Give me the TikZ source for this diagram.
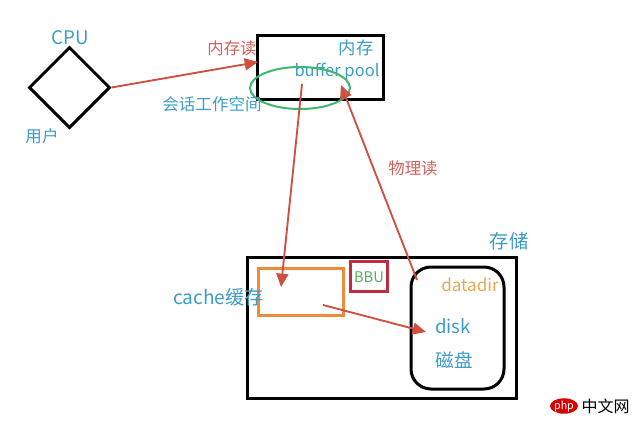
\documentclass[tikz,border=0pt]{standalone}
\usepackage{fontspec}
\setmainfont{Noto Sans CJK SC}
\usepackage{xcolor}
\usetikzlibrary{arrows.meta,shapes.geometric}
\definecolor{labelblue}{HTML}{3D9CC6}
\definecolor{labelred}{HTML}{D0605A}
\definecolor{arrowred}{HTML}{CF4F40}
\definecolor{boxorange}{HTML}{EE8A3A}
\definecolor{boxred}{HTML}{C22B3C}
\definecolor{ringgreen}{HTML}{3DB86E}
\definecolor{bbugreen}{HTML}{55AE5E}
\definecolor{dirorange}{HTML}{E5A855}
\tikzset{
  box/.style={draw,line width=2.25pt,inner sep=0pt},
  bluetext/.style={text=labelblue,font=\fontsize{14}{16}\selectfont,inner sep=0pt},
  smallblue/.style={text=labelblue,font=\fontsize{12.4}{14}\selectfont,inner sep=0pt},
  redtext/.style={text=labelred,font=\fontsize{12.3}{14}\selectfont,inner sep=0pt},
  readarrow/.style={-{Triangle[length=10pt,width=9pt]},arrowred,line width=1.4pt}
}

\begin{document}
\begin{tikzpicture}[x=0.75pt,y=-0.75pt]
  \useasboundingbox (0,0) rectangle (640,425);

  \node[box,diamond,minimum width=60.75pt,minimum height=60.75pt] (cpu) at (69.5,87.5) {};
  \node[bluetext] (cpulabel) at (70,38) {CPU};
  \node[smallblue] (user) at (42,136) {用户};

  \node[box,minimum width=94.5pt,minimum height=48pt] (mem) at (320,67) {};
  \node[smallblue,font=\fontsize{13}{15}\selectfont] (memlabel) at (356,48) {内存};
  \node[smallblue] (pool) at (337,72) {buffer pool};
  \node[draw=ringgreen,line width=1.5pt,ellipse,inner sep=0pt,minimum width=75pt,minimum height=31.5pt] (session) at (300,88) {};
  \node[smallblue] (sessionlabel) at (212,104) {会话工作空间};
  \node[redtext] (memread) at (232,48) {内存读};
  \node[redtext] (physread) at (413,168) {物理读};

  \node[box,minimum width=201.75pt,minimum height=105.75pt] (store) at (381.5,327.5) {};
  \node[bluetext,font=\fontsize{14.5}{16}\selectfont] (storelabel) at (509,241) {存储};
  \node[draw=boxorange,line width=2.25pt,inner sep=0pt,minimum width=63.75pt,minimum height=35.25pt] (cache) at (300.5,291.5) {};
  \node[bluetext,font=\fontsize{14.4}{16}\selectfont] (cachelabel) at (218.5,297) {cache缓存};
  \node[draw=boxred,line width=2.25pt,inner sep=0pt,minimum width=27.75pt,minimum height=22.5pt] (bbu) at (368.5,276) {};
  \node[text=bbugreen,font=\fontsize{11}{13}\selectfont,inner sep=0pt] (bbulabel) at (369,277) {BBU};
  \node[box,rounded corners=15pt,minimum width=69.75pt,minimum height=91.5pt] (disk) at (457.5,328) {};
  \node[text=dirorange,font=\fontsize{12.8}{15}\selectfont,inner sep=0pt] (datadir) at (470,285) {datadir};
  \node[bluetext] (disklabel) at (453,326) {disk};
  \node[bluetext] (cilabel) at (454,360) {磁盘};

  \coordinate (memin) at (258,62);
  \coordinate (poolout) at (302,84);
  \coordinate (cachein) at (281,287);
  \coordinate (diskout) at (417,280);
  \coordinate (poolin) at (341,85);
  \coordinate (cacheout) at (323,305);
  \coordinate (diskin) at (426,332);

  \draw[readarrow] (cpu.east) -- (memin);
  \draw[readarrow] (poolout) -- (cachein);
  \draw[readarrow] (diskout) -- (poolin);
  \draw[readarrow] (cacheout) -- (diskin);

  \node[ellipse,fill=red!85!black,text=white,inner sep=0pt,minimum width=21pt,minimum height=11pt,font=\fontsize{8}{9}\selectfont\itshape] (php) at (564,406) {php};
  \node[font=\fontsize{12}{14}\selectfont,inner sep=0pt] (phpcn) at (605.5,406) {中文网};
\end{tikzpicture}
\end{document}
